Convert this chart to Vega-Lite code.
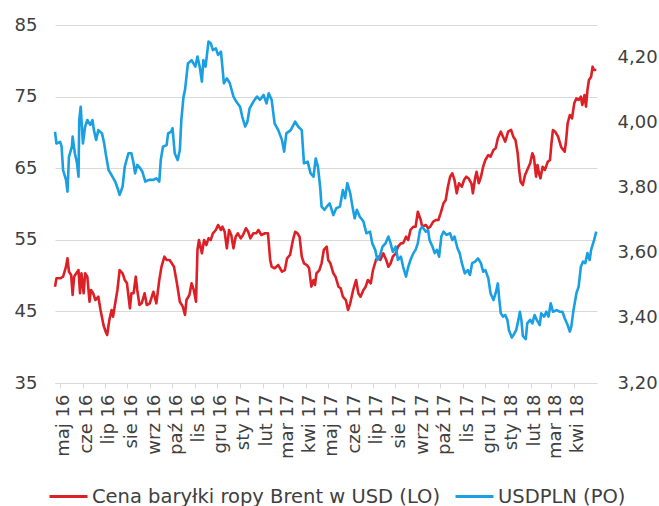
{
  "$schema": "https://vega.github.io/schema/vega-lite/v6.json",
  "width": 542,
  "height": 358,
  "autosize": "none",
  "padding": {"left": 55, "top": 25, "right": 62, "bottom": 123},
  "background": "white",
  "config": {"view": {"stroke": null}, "font": "DejaVu Sans"},
  "datasets": {
    "brent": [
      {"date":"2016-05-03","brent":48.45},{"date":"2016-05-05","brent":49.62},{"date":"2016-05-10","brent":49.62},{"date":"2016-05-14","brent":49.85},{"date":"2016-05-18","brent":51.24},{"date":"2016-05-20","brent":52.42},{"date":"2016-05-22","brent":50.54},{"date":"2016-05-25","brent":50.08},{"date":"2016-05-27","brent":47.29},{"date":"2016-05-29","brent":49.85},
      {"date":"2016-06-01","brent":50.32},{"date":"2016-06-04","brent":50.78},{"date":"2016-06-06","brent":47.53},{"date":"2016-06-08","brent":50.32},{"date":"2016-06-11","brent":47.53},{"date":"2016-06-13","brent":50.32},{"date":"2016-06-16","brent":49.85},{"date":"2016-06-19","brent":46.35},{"date":"2016-06-21","brent":47.99},{"date":"2016-06-24","brent":47.53},{"date":"2016-06-27","brent":46.59},
      {"date":"2016-07-01","brent":47.05},{"date":"2016-07-04","brent":45.20},{"date":"2016-07-08","brent":43.10},{"date":"2016-07-11","brent":42.16},{"date":"2016-07-13","brent":41.70},{"date":"2016-07-16","brent":43.80},{"date":"2016-07-19","brent":45.20},{"date":"2016-07-21","brent":44.26},{"date":"2016-07-24","brent":46.13},{"date":"2016-07-27","brent":47.99},{"date":"2016-07-30","brent":50.78},
      {"date":"2016-08-03","brent":50.32},{"date":"2016-08-06","brent":49.39},{"date":"2016-08-09","brent":48.92},{"date":"2016-08-13","brent":45.43},{"date":"2016-08-15","brent":47.53},{"date":"2016-08-18","brent":47.53},{"date":"2016-08-21","brent":49.85},{"date":"2016-08-23","brent":47.99},{"date":"2016-08-26","brent":45.89},{"date":"2016-08-29","brent":46.13},
      {"date":"2016-09-02","brent":47.53},{"date":"2016-09-05","brent":45.89},{"date":"2016-09-09","brent":46.13},{"date":"2016-09-14","brent":47.75},{"date":"2016-09-18","brent":46.13},{"date":"2016-09-22","brent":49.39},{"date":"2016-09-25","brent":51.24},{"date":"2016-09-29","brent":52.64},
      {"date":"2016-10-02","brent":52.18},{"date":"2016-10-06","brent":52.18},{"date":"2016-10-09","brent":51.72},{"date":"2016-10-12","brent":51.24},{"date":"2016-10-16","brent":48.92},{"date":"2016-10-20","brent":46.35},{"date":"2016-10-24","brent":45.66},{"date":"2016-10-27","brent":44.50},{"date":"2016-10-29","brent":46.59},
      {"date":"2016-11-02","brent":47.29},{"date":"2016-11-05","brent":48.92},{"date":"2016-11-08","brent":47.99},{"date":"2016-11-11","brent":46.35},{"date":"2016-11-13","brent":53.58},{"date":"2016-11-15","brent":54.97},{"date":"2016-11-19","brent":53.11},{"date":"2016-11-22","brent":54.97},{"date":"2016-11-25","brent":54.27},{"date":"2016-11-28","brent":55.21},
      {"date":"2016-12-01","brent":54.97},{"date":"2016-12-04","brent":55.91},{"date":"2016-12-08","brent":56.37},{"date":"2016-12-11","brent":57.07},{"date":"2016-12-15","brent":56.37},{"date":"2016-12-17","brent":56.83},{"date":"2016-12-20","brent":56.13},{"date":"2016-12-23","brent":53.81},{"date":"2016-12-26","brent":56.37},{"date":"2016-12-29","brent":55.67},
      {"date":"2017-01-01","brent":53.81},{"date":"2017-01-04","brent":55.43},{"date":"2017-01-07","brent":55.91},{"date":"2017-01-11","brent":55.21},{"date":"2017-01-14","brent":55.67},{"date":"2017-01-18","brent":56.61},{"date":"2017-01-21","brent":56.13},{"date":"2017-01-24","brent":55.21},{"date":"2017-01-28","brent":55.91},
      {"date":"2017-02-01","brent":55.91},{"date":"2017-02-04","brent":56.37},{"date":"2017-02-08","brent":55.67},{"date":"2017-02-13","brent":55.91},{"date":"2017-02-17","brent":55.91},{"date":"2017-02-20","brent":52.18},{"date":"2017-02-22","brent":51.24},{"date":"2017-02-26","brent":51.02},
      {"date":"2017-03-03","brent":51.48},{"date":"2017-03-08","brent":50.54},{"date":"2017-03-12","brent":50.78},{"date":"2017-03-15","brent":52.42},{"date":"2017-03-19","brent":52.88},{"date":"2017-03-23","brent":54.97},{"date":"2017-03-26","brent":56.13},{"date":"2017-03-29","brent":55.91},
      {"date":"2017-04-01","brent":55.43},{"date":"2017-04-04","brent":52.64},{"date":"2017-04-07","brent":51.72},{"date":"2017-04-11","brent":51.48},{"date":"2017-04-14","brent":51.02},{"date":"2017-04-17","brent":48.45},{"date":"2017-04-20","brent":49.39},{"date":"2017-04-22","brent":48.69},{"date":"2017-04-24","brent":50.32},{"date":"2017-04-28","brent":50.78},
      {"date":"2017-05-01","brent":51.72},{"date":"2017-05-04","brent":53.58},{"date":"2017-05-08","brent":54.04},{"date":"2017-05-10","brent":52.18},{"date":"2017-05-13","brent":51.72},{"date":"2017-05-17","brent":50.32},{"date":"2017-05-20","brent":49.85},{"date":"2017-05-24","brent":48.45},{"date":"2017-05-27","brent":48.23},{"date":"2017-05-30","brent":47.05},
      {"date":"2017-06-03","brent":46.59},{"date":"2017-06-06","brent":45.20},{"date":"2017-06-09","brent":46.13},{"date":"2017-06-13","brent":47.99},{"date":"2017-06-17","brent":49.39},{"date":"2017-06-20","brent":47.53},{"date":"2017-06-23","brent":47.05},{"date":"2017-06-27","brent":47.99},{"date":"2017-06-30","brent":48.45},
      {"date":"2017-07-03","brent":49.39},{"date":"2017-07-07","brent":48.92},{"date":"2017-07-10","brent":50.78},{"date":"2017-07-14","brent":52.18},{"date":"2017-07-17","brent":52.64},{"date":"2017-07-20","brent":52.18},{"date":"2017-07-24","brent":53.11},{"date":"2017-07-28","brent":52.18},{"date":"2017-07-31","brent":51.24},
      {"date":"2017-08-03","brent":51.72},{"date":"2017-08-06","brent":52.64},{"date":"2017-08-10","brent":53.11},{"date":"2017-08-13","brent":54.04},{"date":"2017-08-17","brent":54.51},{"date":"2017-08-20","brent":54.51},{"date":"2017-08-24","brent":55.43},{"date":"2017-08-27","brent":54.97},{"date":"2017-08-30","brent":56.37},
      {"date":"2017-09-03","brent":56.83},{"date":"2017-09-06","brent":56.83},{"date":"2017-09-09","brent":58.92},{"date":"2017-09-13","brent":57.77},{"date":"2017-09-15","brent":56.83},{"date":"2017-09-20","brent":57.07},{"date":"2017-09-23","brent":56.61},{"date":"2017-09-26","brent":56.83},{"date":"2017-09-30","brent":57.53},
      {"date":"2017-10-04","brent":57.77},{"date":"2017-10-07","brent":57.77},{"date":"2017-10-10","brent":58.70},{"date":"2017-10-14","brent":60.10},{"date":"2017-10-17","brent":60.56},{"date":"2017-10-20","brent":62.42},{"date":"2017-10-23","brent":63.81},{"date":"2017-10-26","brent":64.29},{"date":"2017-10-29","brent":63.35},
      {"date":"2017-11-01","brent":61.49},{"date":"2017-11-04","brent":62.89},{"date":"2017-11-08","brent":62.42},{"date":"2017-11-11","brent":63.35},{"date":"2017-11-14","brent":63.81},{"date":"2017-11-17","brent":63.59},{"date":"2017-11-21","brent":62.89},{"date":"2017-11-23","brent":61.49},{"date":"2017-11-26","brent":63.59},{"date":"2017-11-28","brent":64.51},
      {"date":"2017-12-01","brent":62.89},{"date":"2017-12-04","brent":63.81},{"date":"2017-12-07","brent":65.21},{"date":"2017-12-10","brent":66.15},{"date":"2017-12-14","brent":66.84},{"date":"2017-12-17","brent":66.61},{"date":"2017-12-21","brent":67.54},{"date":"2017-12-24","brent":67.78},{"date":"2017-12-27","brent":69.18},{"date":"2017-12-31","brent":70.10},
      {"date":"2018-01-03","brent":69.40},{"date":"2018-01-06","brent":68.70},{"date":"2018-01-10","brent":70.10},{"date":"2018-01-14","brent":70.34},{"date":"2018-01-17","brent":69.40},{"date":"2018-01-20","brent":68.94},{"date":"2018-01-23","brent":67.08},{"date":"2018-01-25","brent":64.75},{"date":"2018-01-27","brent":63.11},{"date":"2018-01-30","brent":62.65},
      {"date":"2018-02-02","brent":64.05},{"date":"2018-02-05","brent":64.75},{"date":"2018-02-09","brent":65.68},{"date":"2018-02-12","brent":67.08},{"date":"2018-02-14","brent":66.61},{"date":"2018-02-17","brent":63.81},{"date":"2018-02-19","brent":65.45},{"date":"2018-02-21","brent":64.29},{"date":"2018-02-23","brent":63.59},{"date":"2018-02-26","brent":65.21},
      {"date":"2018-03-01","brent":64.75},{"date":"2018-03-05","brent":65.91},{"date":"2018-03-08","brent":66.15},{"date":"2018-03-10","brent":68.48},{"date":"2018-03-12","brent":70.34},{"date":"2018-03-15","brent":70.10},{"date":"2018-03-19","brent":69.40},{"date":"2018-03-23","brent":68.00},{"date":"2018-03-26","brent":67.54},{"date":"2018-03-28","brent":67.30},{"date":"2018-03-30","brent":68.94},
      {"date":"2018-04-01","brent":71.27},{"date":"2018-04-04","brent":72.43},{"date":"2018-04-07","brent":71.97},{"date":"2018-04-10","brent":74.06},{"date":"2018-04-13","brent":74.76},{"date":"2018-04-16","brent":74.53},{"date":"2018-04-19","brent":74.99},{"date":"2018-04-21","brent":73.83},{"date":"2018-04-24","brent":75.22},{"date":"2018-04-26","brent":73.59},{"date":"2018-04-28","brent":75.92},{"date":"2018-04-30","brent":77.32},
      {"date":"2018-05-03","brent":77.78},{"date":"2018-05-05","brent":79.18},{"date":"2018-05-07","brent":78.72},{"date":"2018-05-10","brent":78.72}
    ],
    "usdpln": [
      {"date":"2016-05-03","usdpln":3.972},{"date":"2016-05-05","usdpln":3.936},{"date":"2016-05-10","usdpln":3.941},{"date":"2016-05-12","usdpln":3.926},{"date":"2016-05-14","usdpln":3.854},{"date":"2016-05-18","usdpln":3.824},{"date":"2016-05-20","usdpln":3.788},{"date":"2016-05-22","usdpln":3.895},{"date":"2016-05-26","usdpln":3.926},{"date":"2016-05-27","usdpln":3.957},{"date":"2016-05-30","usdpln":3.906},
      {"date":"2016-06-02","usdpln":3.875},{"date":"2016-06-04","usdpln":3.834},{"date":"2016-06-05","usdpln":4.008},{"date":"2016-06-07","usdpln":4.049},{"date":"2016-06-10","usdpln":3.936},{"date":"2016-06-13","usdpln":3.988},{"date":"2016-06-16","usdpln":4.008},{"date":"2016-06-20","usdpln":3.993},{"date":"2016-06-23","usdpln":4.008},{"date":"2016-06-25","usdpln":3.977},{"date":"2016-06-28","usdpln":3.947},
      {"date":"2016-07-01","usdpln":3.977},{"date":"2016-07-06","usdpln":3.967},{"date":"2016-07-09","usdpln":3.936},{"date":"2016-07-11","usdpln":3.906},{"date":"2016-07-15","usdpln":3.854},{"date":"2016-07-19","usdpln":3.839},{"date":"2016-07-24","usdpln":3.819},{"date":"2016-07-28","usdpln":3.793},{"date":"2016-07-30","usdpln":3.778},
      {"date":"2016-08-03","usdpln":3.803},{"date":"2016-08-06","usdpln":3.865},{"date":"2016-08-11","usdpln":3.906},{"date":"2016-08-15","usdpln":3.906},{"date":"2016-08-18","usdpln":3.875},{"date":"2016-08-20","usdpln":3.844},{"date":"2016-08-23","usdpln":3.870},{"date":"2016-08-27","usdpln":3.860},{"date":"2016-08-30","usdpln":3.849},
      {"date":"2016-09-03","usdpln":3.819},{"date":"2016-09-08","usdpln":3.824},{"date":"2016-09-14","usdpln":3.824},{"date":"2016-09-18","usdpln":3.829},{"date":"2016-09-22","usdpln":3.819},{"date":"2016-09-24","usdpln":3.885},{"date":"2016-09-27","usdpln":3.926},
      {"date":"2016-10-02","usdpln":3.931},{"date":"2016-10-04","usdpln":3.967},{"date":"2016-10-08","usdpln":3.972},{"date":"2016-10-10","usdpln":3.983},{"date":"2016-10-13","usdpln":3.906},{"date":"2016-10-17","usdpln":3.885},{"date":"2016-10-20","usdpln":3.916},{"date":"2016-10-22","usdpln":4.008},{"date":"2016-10-25","usdpln":4.080},{"date":"2016-10-27","usdpln":4.100},{"date":"2016-10-31","usdpln":4.182},
      {"date":"2016-11-05","usdpln":4.192},{"date":"2016-11-10","usdpln":4.172},{"date":"2016-11-13","usdpln":4.203},{"date":"2016-11-16","usdpln":4.172},{"date":"2016-11-19","usdpln":4.126},{"date":"2016-11-21","usdpln":4.192},{"date":"2016-11-24","usdpln":4.172},{"date":"2016-11-28","usdpln":4.249},
      {"date":"2016-12-01","usdpln":4.244},{"date":"2016-12-04","usdpln":4.223},{"date":"2016-12-08","usdpln":4.228},{"date":"2016-12-11","usdpln":4.208},{"date":"2016-12-15","usdpln":4.218},{"date":"2016-12-19","usdpln":4.121},{"date":"2016-12-23","usdpln":4.136},{"date":"2016-12-27","usdpln":4.121},
      {"date":"2017-01-01","usdpln":4.080},{"date":"2017-01-05","usdpln":4.064},{"date":"2017-01-10","usdpln":4.049},{"date":"2017-01-13","usdpln":4.018},{"date":"2017-01-17","usdpln":3.988},{"date":"2017-01-20","usdpln":4.003},{"date":"2017-01-23","usdpln":4.044},{"date":"2017-01-28","usdpln":4.064},
      {"date":"2017-02-02","usdpln":4.080},{"date":"2017-02-06","usdpln":4.070},{"date":"2017-02-11","usdpln":4.085},{"date":"2017-02-15","usdpln":4.059},{"date":"2017-02-18","usdpln":4.090},{"date":"2017-02-22","usdpln":4.070},{"date":"2017-02-26","usdpln":3.998},
      {"date":"2017-03-03","usdpln":3.977},{"date":"2017-03-08","usdpln":3.947},{"date":"2017-03-11","usdpln":3.911},{"date":"2017-03-14","usdpln":3.967},{"date":"2017-03-20","usdpln":3.977},{"date":"2017-03-26","usdpln":4.003},{"date":"2017-03-30","usdpln":3.988},
      {"date":"2017-04-04","usdpln":3.977},{"date":"2017-04-07","usdpln":3.875},{"date":"2017-04-12","usdpln":3.880},{"date":"2017-04-16","usdpln":3.844},{"date":"2017-04-20","usdpln":3.834},{"date":"2017-04-23","usdpln":3.890},{"date":"2017-04-26","usdpln":3.865},{"date":"2017-04-29","usdpln":3.803},
      {"date":"2017-05-01","usdpln":3.742},{"date":"2017-05-05","usdpln":3.732},{"date":"2017-05-08","usdpln":3.742},{"date":"2017-05-12","usdpln":3.752},{"date":"2017-05-17","usdpln":3.716},{"date":"2017-05-21","usdpln":3.737},{"date":"2017-05-26","usdpln":3.742},{"date":"2017-05-30","usdpln":3.793},
      {"date":"2017-06-02","usdpln":3.768},{"date":"2017-06-05","usdpln":3.814},{"date":"2017-06-09","usdpln":3.783},{"date":"2017-06-12","usdpln":3.742},{"date":"2017-06-15","usdpln":3.706},{"date":"2017-06-18","usdpln":3.732},{"date":"2017-06-22","usdpln":3.711},{"date":"2017-06-27","usdpln":3.696},
      {"date":"2017-07-01","usdpln":3.660},{"date":"2017-07-06","usdpln":3.665},{"date":"2017-07-09","usdpln":3.629},{"date":"2017-07-13","usdpln":3.609},{"date":"2017-07-16","usdpln":3.578},{"date":"2017-07-19","usdpln":3.588},{"date":"2017-07-23","usdpln":3.619},{"date":"2017-07-27","usdpln":3.629},{"date":"2017-07-31","usdpln":3.650},
      {"date":"2017-08-03","usdpln":3.629},{"date":"2017-08-06","usdpln":3.603},{"date":"2017-08-10","usdpln":3.619},{"date":"2017-08-13","usdpln":3.578},{"date":"2017-08-17","usdpln":3.588},{"date":"2017-08-20","usdpln":3.557},{"date":"2017-08-24","usdpln":3.527},{"date":"2017-08-27","usdpln":3.557},{"date":"2017-08-30","usdpln":3.578},
      {"date":"2017-09-03","usdpln":3.599},{"date":"2017-09-06","usdpln":3.609},{"date":"2017-09-09","usdpln":3.629},{"date":"2017-09-12","usdpln":3.670},{"date":"2017-09-15","usdpln":3.680},{"date":"2017-09-20","usdpln":3.665},{"date":"2017-09-23","usdpln":3.670},{"date":"2017-09-25","usdpln":3.639},{"date":"2017-09-29","usdpln":3.619},
      {"date":"2017-10-02","usdpln":3.599},{"date":"2017-10-05","usdpln":3.609},{"date":"2017-10-08","usdpln":3.588},{"date":"2017-10-11","usdpln":3.650},{"date":"2017-10-14","usdpln":3.665},{"date":"2017-10-18","usdpln":3.655},{"date":"2017-10-23","usdpln":3.660},{"date":"2017-10-26","usdpln":3.639},{"date":"2017-10-29","usdpln":3.650},
      {"date":"2017-11-02","usdpln":3.614},{"date":"2017-11-05","usdpln":3.599},{"date":"2017-11-08","usdpln":3.568},{"date":"2017-11-12","usdpln":3.537},{"date":"2017-11-16","usdpln":3.547},{"date":"2017-11-19","usdpln":3.532},{"date":"2017-11-22","usdpln":3.568},{"date":"2017-11-26","usdpln":3.573},{"date":"2017-11-30","usdpln":3.583},
      {"date":"2017-12-04","usdpln":3.568},{"date":"2017-12-07","usdpln":3.542},{"date":"2017-12-10","usdpln":3.547},{"date":"2017-12-14","usdpln":3.522},{"date":"2017-12-17","usdpln":3.476},{"date":"2017-12-21","usdpln":3.455},{"date":"2017-12-24","usdpln":3.476},{"date":"2017-12-27","usdpln":3.506},{"date":"2017-12-29","usdpln":3.455},{"date":"2017-12-31","usdpln":3.414},
      {"date":"2018-01-03","usdpln":3.404},{"date":"2018-01-06","usdpln":3.409},{"date":"2018-01-09","usdpln":3.394},{"date":"2018-01-11","usdpln":3.363},{"date":"2018-01-15","usdpln":3.340},{"date":"2018-01-18","usdpln":3.350},{"date":"2018-01-21","usdpln":3.363},{"date":"2018-01-24","usdpln":3.394},{"date":"2018-01-26","usdpln":3.419},{"date":"2018-01-28","usdpln":3.394},{"date":"2018-01-30","usdpln":3.345},
      {"date":"2018-02-03","usdpln":3.335},{"date":"2018-02-05","usdpln":3.383},{"date":"2018-02-09","usdpln":3.394},{"date":"2018-02-12","usdpln":3.383},{"date":"2018-02-15","usdpln":3.409},{"date":"2018-02-18","usdpln":3.394},{"date":"2018-02-22","usdpln":3.378},{"date":"2018-02-24","usdpln":3.414},{"date":"2018-02-28","usdpln":3.404},
      {"date":"2018-03-03","usdpln":3.419},{"date":"2018-03-06","usdpln":3.404},{"date":"2018-03-09","usdpln":3.445},{"date":"2018-03-12","usdpln":3.419},{"date":"2018-03-17","usdpln":3.424},{"date":"2018-03-21","usdpln":3.419},{"date":"2018-03-25","usdpln":3.419},{"date":"2018-03-28","usdpln":3.399},
      {"date":"2018-04-01","usdpln":3.378},{"date":"2018-04-04","usdpln":3.358},{"date":"2018-04-06","usdpln":3.373},{"date":"2018-04-09","usdpln":3.424},{"date":"2018-04-13","usdpln":3.476},{"date":"2018-04-16","usdpln":3.496},{"date":"2018-04-19","usdpln":3.557},{"date":"2018-04-22","usdpln":3.573},{"date":"2018-04-25","usdpln":3.568},{"date":"2018-04-28","usdpln":3.599},
      {"date":"2018-05-01","usdpln":3.578},{"date":"2018-05-03","usdpln":3.609},{"date":"2018-05-07","usdpln":3.639},{"date":"2018-05-10","usdpln":3.665}
    ]
  },
  "layer": [
    {
      "data": {"name": "brent"},
      "mark": {"type": "line", "strokeWidth": 2.6, "strokeJoin": "round"},
      "encoding": {
        "x": {
          "field": "date", "type": "temporal",
          "scale": {"type": "utc", "domain": [{"year": 2016, "month": 5, "date": 3, "utc": true}, {"year": 2018, "month": 5, "date": 11, "utc": true}]},
          "axis": {
            "title": null, "grid": false, "tickCount": 40,
            "values": [
              {"year":2016,"month":5,"date":15,"utc":true},{"year":2016,"month":6,"date":15,"utc":true},{"year":2016,"month":7,"date":15,"utc":true},{"year":2016,"month":8,"date":15,"utc":true},{"year":2016,"month":9,"date":15,"utc":true},{"year":2016,"month":10,"date":15,"utc":true},{"year":2016,"month":11,"date":15,"utc":true},{"year":2016,"month":12,"date":15,"utc":true},
              {"year":2017,"month":1,"date":15,"utc":true},{"year":2017,"month":2,"date":15,"utc":true},{"year":2017,"month":3,"date":15,"utc":true},{"year":2017,"month":4,"date":15,"utc":true},{"year":2017,"month":5,"date":15,"utc":true},{"year":2017,"month":6,"date":15,"utc":true},{"year":2017,"month":7,"date":15,"utc":true},{"year":2017,"month":8,"date":15,"utc":true},{"year":2017,"month":9,"date":15,"utc":true},{"year":2017,"month":10,"date":15,"utc":true},{"year":2017,"month":11,"date":15,"utc":true},{"year":2017,"month":12,"date":15,"utc":true},
              {"year":2018,"month":1,"date":15,"utc":true},{"year":2018,"month":2,"date":15,"utc":true},{"year":2018,"month":3,"date":15,"utc":true},{"year":2018,"month":4,"date":15,"utc":true}
            ],
            "labelExpr": "['sty','lut','mar','kwi','maj','cze','lip','sie','wrz','paź','lis','gru'][utcmonth(datum.value)] + ' ' + utcFormat(datum.value, '%y')",
            "labelAngle": -90, "labelAlign": "right", "labelBaseline": "middle",
            "labelFontSize": 18, "labelColor": "#404040", "labelPadding": 6,
            "labelOverlap": false, "labelFlush": false, "labelBound": false,
            "tickSize": 5, "tickColor": "#d9d9d9", "tickOffset": -4, "labelOffset": 4,
            "domainColor": "#d9d9d9"
          }
        },
        "y": {
          "field": "brent", "type": "quantitative",
          "scale": {"domain": [35, 85], "nice": false, "zero": false},
          "axis": {
            "title": null, "values": [35, 45, 55, 65, 75, 85],
            "grid": true, "gridColor": "#d9d9d9", "domain": false, "ticks": false,
            "labelFontSize": 18, "labelColor": "#404040", "labelPadding": 18
          }
        },
        "color": {
          "datum": "Cena baryłki ropy Brent w USD (LO)",
          "scale": {"domain": ["Cena baryłki ropy Brent w USD (LO)", "USDPLN (PO)"], "range": ["#dc2026", "#1a9fe3"]},
          "legend": {
            "orient": "none", "legendX": -7, "legendY": 451, "direction": "horizontal", "title": null,
            "symbolType": "stroke", "symbolSize": 1444, "symbolStrokeWidth": 3,
            "labelFontSize": 19.5, "labelColor": "#404040", "labelOffset": 3, "columnPadding": 8, "labelLimit": 600
          }
        }
      }
    },
    {
      "data": {"name": "usdpln"},
      "mark": {"type": "line", "strokeWidth": 2.6, "strokeJoin": "round"},
      "encoding": {
        "x": {"field": "date", "type": "temporal"},
        "y": {
          "field": "usdpln", "type": "quantitative",
          "scale": {"domain": [3.2, 4.3], "nice": false, "zero": false},
          "axis": {
            "title": null, "orient": "right", "values": [3.2, 3.4, 3.6, 3.8, 4.0, 4.2],
            "labelExpr": "replace(format(datum.value, '.2f'), '.', ',')",
            "grid": false, "domain": false, "ticks": false,
            "labelFontSize": 18, "labelColor": "#404040", "labelPadding": 20
          }
        },
        "color": {"datum": "USDPLN (PO)"}
      }
    }
  ],
  "resolve": {"scale": {"y": "independent"}}
}
